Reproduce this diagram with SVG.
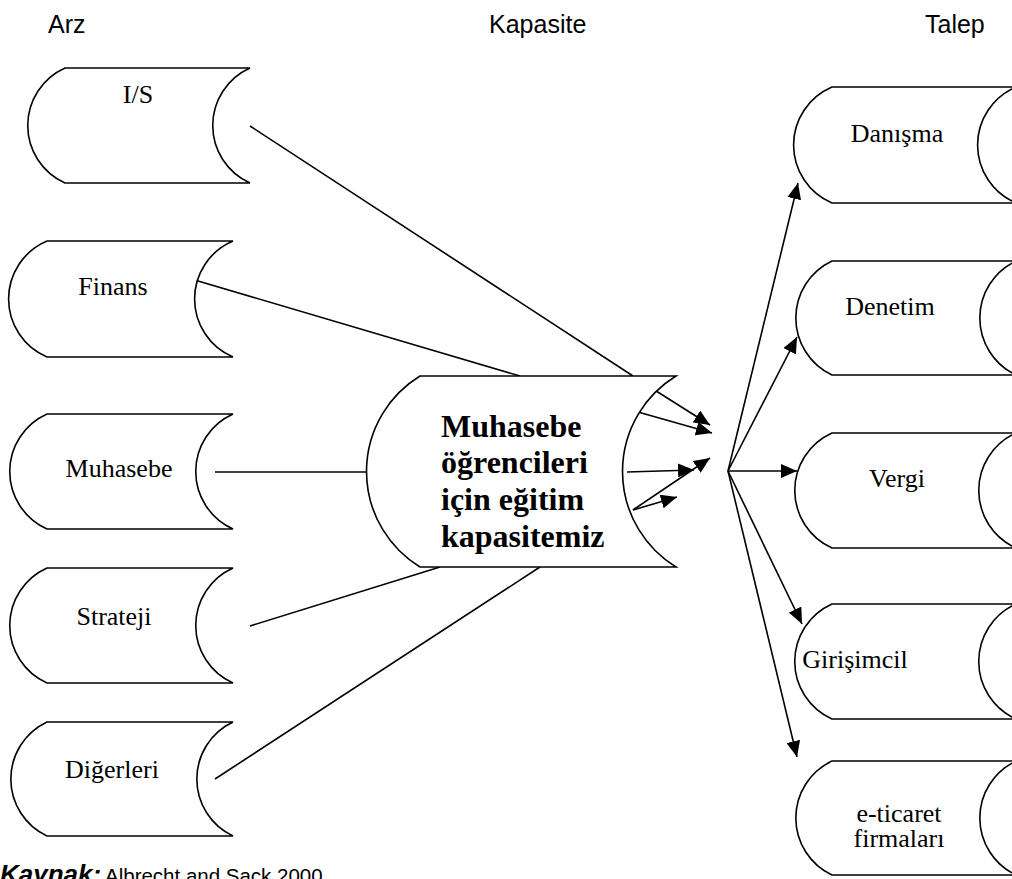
<svg xmlns="http://www.w3.org/2000/svg" width="1012" height="879" viewBox="0 0 1012 879">
<style>
.shape{fill:#fff;stroke:#000;stroke-width:1.6}
.lbl{font-family:"Liberation Serif","Times New Roman",serif;font-size:26px;fill:#000;text-anchor:middle}
.big{font-family:"Liberation Serif","Times New Roman",serif;font-size:32px;font-weight:bold;fill:#000}
.hdr{font-family:"Liberation Sans",Arial,sans-serif;font-size:25px;fill:#000}
.src{font-family:"Liberation Sans",Arial,sans-serif;fill:#000}
.ln{stroke:#000;stroke-width:1.6;fill:none}
</style>
<defs>
<marker id="ah" markerUnits="userSpaceOnUse" markerWidth="18" markerHeight="14" refX="16" refY="7" orient="auto">
<path d="M0,0 L16,7 L0,14 Z" fill="#000"/>
</marker>
</defs>
<rect width="1012" height="879" fill="#fff"/>
<g id="headers">
<text class="hdr" x="48" y="33">Arz</text>
<text class="hdr" x="489" y="33">Kapasite</text>
<text class="hdr" x="925" y="33">Talep</text>
</g>
<g id="connectors">
<line class="ln" x1="250" y1="126" x2="633" y2="376"/>
<line class="ln" x1="198" y1="281" x2="520" y2="376"/>
<line class="ln" x1="215" y1="472" x2="368" y2="472"/>
<line class="ln" x1="250" y1="626" x2="440" y2="567"/>
<line class="ln" x1="215" y1="779" x2="540" y2="567"/>
<line class="ln" x1="653" y1="389" x2="710" y2="425" marker-end="url(#ah)"/>
<line class="ln" x1="638" y1="412" x2="712" y2="433" marker-end="url(#ah)"/>
<line class="ln" x1="627" y1="472" x2="694" y2="470" marker-end="url(#ah)"/>
<line class="ln" x1="633" y1="510" x2="710" y2="458" marker-end="url(#ah)"/>
<line class="ln" x1="633" y1="510" x2="677" y2="497" marker-end="url(#ah)"/>
<line class="ln" x1="728" y1="471" x2="798" y2="183" marker-end="url(#ah)"/>
<line class="ln" x1="728" y1="471" x2="797" y2="337" marker-end="url(#ah)"/>
<line class="ln" x1="728" y1="471" x2="797" y2="471" marker-end="url(#ah)"/>
<line class="ln" x1="728" y1="471" x2="802" y2="624" marker-end="url(#ah)"/>
<line class="ln" x1="728" y1="471" x2="797" y2="757" marker-end="url(#ah)"/>
</g>
<g id="node-is">
<path class="shape" d="M65,68 H250 A63,63 0 0 0 250,183 H65 A63,63 0 0 1 65,68 Z"/>
<text class="lbl" x="138" y="103">I/S</text>
</g>
<g id="node-finans">
<path class="shape" d="M47,241 H233 A63,63 0 0 0 233,357 H47 A63,63 0 0 1 47,241 Z"/>
<text class="lbl" x="113" y="295">Finans</text>
</g>
<g id="node-muhasebe">
<path class="shape" d="M47,414 H233 A63,63 0 0 0 233,529 H47 A63,63 0 0 1 47,414 Z"/>
<text class="lbl" x="119" y="477">Muhasebe</text>
</g>
<g id="node-strateji">
<path class="shape" d="M47,568 H233 A63,63 0 0 0 233,683 H47 A63,63 0 0 1 47,568 Z"/>
<text class="lbl" x="114" y="625">Strateji</text>
</g>
<g id="node-digerleri">
<path class="shape" d="M47,722 H233 A63,63 0 0 0 233,836 H47 A63,63 0 0 1 47,722 Z"/>
<text class="lbl" x="112" y="778">Diğerleri</text>
</g>
<g id="node-kapasite">
<path class="shape" d="M420,376 H676 A112,112 0 0 0 676,567 H420 A112,112 0 0 1 420,376 Z"/>
<text class="big" x="441" y="437">Muhasebe</text>
<text class="big" x="441" y="473">öğrencileri</text>
<text class="big" x="441" y="510">için eğitim</text>
<text class="big" x="441" y="547">kapasitemiz</text>
</g>
<g id="node-danisma">
<path class="shape" d="M832,87 H1016 A63,63 0 0 0 1016,203 H832 A63,63 0 0 1 832,87 Z"/>
<text class="lbl" x="897" y="142">Danışma</text>
</g>
<g id="node-denetim">
<path class="shape" d="M832,261 H1016 A63,63 0 0 0 1016,375 H832 A63,63 0 0 1 832,261 Z"/>
<text class="lbl" x="890" y="315">Denetim</text>
</g>
<g id="node-vergi">
<path class="shape" d="M832,433 H1016 A63,63 0 0 0 1016,548 H832 A63,63 0 0 1 832,433 Z"/>
<text class="lbl" x="897" y="487">Vergi</text>
</g>
<g id="node-girisimcil">
<path class="shape" d="M832,604 H1016 A63,63 0 0 0 1016,719 H832 A63,63 0 0 1 832,604 Z"/>
<text class="lbl" x="855" y="668">Girişimcil</text>
</g>
<g id="node-eticaret">
<path class="shape" d="M832,761 H1016 A63,63 0 0 0 1016,875 H832 A63,63 0 0 1 832,761 Z"/>
<text class="lbl" x="899" y="822">e-ticaret</text>
<text class="lbl" x="899" y="847">firmaları</text>
</g>
<g id="source">
<text class="src" x="0" y="883" font-size="26" font-weight="bold" font-style="italic">Kaynak:</text>
<text class="src" x="105" y="883" font-size="20.5">Albrecht and Sack 2000</text>
</g>
</svg>
